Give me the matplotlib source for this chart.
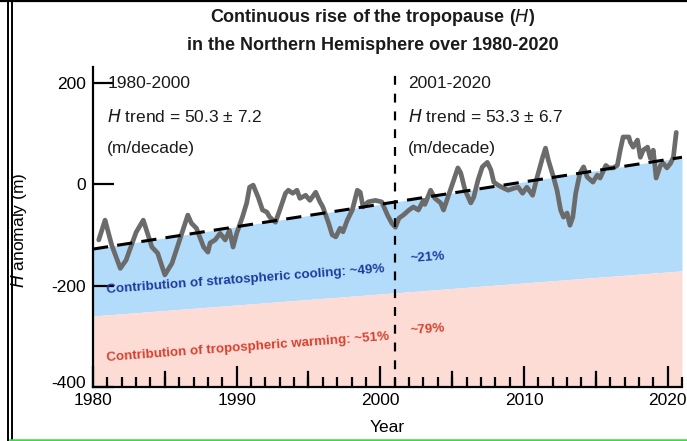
import numpy as np
import matplotlib
matplotlib.use("Agg")
import matplotlib.pyplot as plt
from matplotlib.lines import Line2D
from matplotlib.transforms import ScaledTranslation

plt.rcParams['font.family'] = ['Liberation Sans', 'DejaVu Sans']
plt.rcParams['axes.unicode_minus'] = False

# Smoothed tropopause height anomaly (m), Northern Hemisphere
years = [1980.4, 1980.84, 1981.3, 1981.9, 1982.3, 1983.0, 1983.5, 1984.1, 1984.5,
         1985.0, 1985.5, 1986.1, 1986.6, 1986.85, 1987.2, 1987.7, 1988.0, 1988.15,
         1988.5, 1988.85, 1989.2, 1989.5, 1989.75, 1990.0, 1990.4, 1990.7, 1990.9,
         1991.15, 1991.5, 1991.8, 1992.1, 1992.3, 1992.7, 1993.0, 1993.4, 1993.6,
         1993.9, 1994.2, 1994.4, 1994.8, 1995.1, 1995.5, 1995.8, 1996.0, 1996.4,
         1996.65, 1996.9, 1997.2, 1997.4, 1997.7, 1998.05, 1998.4, 1998.6, 1998.8,
         1999.15, 1999.65, 2000.1, 2000.5, 2000.8, 2001.05, 2001.3, 2001.6, 2002.0,
         2002.3, 2002.65, 2003.0, 2003.1, 2003.5, 2003.8, 2004.2, 2004.4, 2004.7,
         2005.1, 2005.4, 2005.6, 2005.9, 2006.3, 2006.5, 2006.8, 2007.1, 2007.45,
         2007.7, 2007.9, 2008.2, 2008.6, 2008.9, 2009.3, 2009.6, 2009.9, 2010.2,
         2010.6, 2010.9, 2011.3, 2011.5, 2011.7, 2012.05, 2012.3, 2012.55, 2012.75,
         2013.0, 2013.2, 2013.4, 2013.6, 2013.9, 2014.15, 2014.4, 2014.8, 2015.1,
         2015.3, 2015.7, 2015.9, 2016.2, 2016.5, 2016.7, 2016.9, 2017.3, 2017.4,
         2017.6, 2017.9, 2018.1, 2018.3, 2018.6, 2018.8, 2019.0, 2019.2, 2019.5,
         2019.7, 2019.95, 2020.2, 2020.4, 2020.6]
anomaly = [-110, -71, -120, -166, -150, -95, -71, -124, -136,
           -179, -156, -104, -61, -77, -87, -124, -134, -116,
           -110, -97, -110, -91, -124, -97, -65, -37, -6,
           -2, -26, -51, -55, -65, -75, -51, -18, -12,
           -18, -12, -28, -22, -32, -16, -35, -45, -77,
           -100, -104, -87, -94, -71, -51, -12, -16, -45,
           -35, -32, -35, -61, -77, -85, -67, -61, -51,
           -45, -51, -32, -40, -12, -28, -37, -51, -26,
           8, 32, 22, -12, -37, -26, 8, 34, 43,
           28, 4, -2, -8, -12, -8, -6, -18, -6,
           -22, 12, 53, 71, 47, 14, -12, -51, -65,
           -57, -81, -65, -18, 22, 34, 14, 4, 18,
           12, 37, 32, 32, 37, 67, 93, 93, 83,
           73, 87, 53, 67, 73, 51, 67, 12, 37,
           41, 32, 41, 53, 102]

# Linear trend and attribution bands (m)
band_years = [1980, 2021]
trend_line = [-128, 53]
split_line = [-260, -171]
band_floor = [-400, -400]
break_year = 2001

fig = plt.figure(figsize=(6.87, 4.41), dpi=100)
ax = fig.add_axes([93 / 687, 1 - 387 / 441, 589 / 687, (387 - 67) / 441])

ax.fill_between(band_years, split_line, trend_line, color='#b3dcfb', lw=0, zorder=1)
ax.fill_between(band_years, band_floor, split_line, color='#fddcd6', lw=0, zorder=1)
ax.plot(years, anomaly, color='#6b6b6b', lw=3.4, solid_joinstyle='round',
        solid_capstyle='round', zorder=3)
ax.plot(band_years, trend_line, color='black', lw=2.2, dashes=(5, 3), zorder=4)
ax.axvline(break_year, color='black', lw=1.6, dashes=(4, 4), zorder=4)

ax.set_xlim(1980, 2021)
ax.set_ylim(-400, 231)
for s in ('top', 'right'):
    ax.spines[s].set_visible(False)
ax.spines['left'].set_linewidth(1.6)
ax.spines['bottom'].set_linewidth(1.6)
ax.set_xticks([1980, 1990, 2000, 2010, 2020])
ax.set_xticks(np.arange(1980, 2022, 1), minor=True)
ax.set_yticks([-400, -200, 0, 200])
ax.tick_params(axis='x', which='major', direction='in', length=15, width=1.6,
               labelsize=12.5, pad=4)
ax.tick_params(axis='x', which='minor', direction='in', length=7, width=1.6)
ax.tick_params(axis='y', direction='in', length=15, width=1.6, labelsize=12.5, pad=5)
# 5-year ticks drawn at full length
for yr in [1985, 1995, 2005, 2015]:
    ax.plot([yr, yr], [-400, -400 + 15 * 631 / 320], color='black', lw=1.6,
            clip_on=False, zorder=5)

# lift the lowest y label clear of the x labels
lab = ax.get_yticklabels()[0]
lab.set_transform(lab.get_transform() + ScaledTranslation(0, 5 / 100, fig.dpi_scale_trans))

ax.set_xlabel('Year', fontsize=12.5, labelpad=9)
ax.set_ylabel('$\\it{H}$ anomaly (m)', fontsize=12.5)
ax.yaxis.set_label_coords(-0.108, 0.49)

txt = dict(fontsize=12.5, color='#1a1a1a', va='center', ha='left')
ax.text(1981.0, 198, '1980-2000', **txt)
ax.text(1981.0, 134, '$\\it{H}$ trend = 50.3 ± 7.2', **txt)
ax.text(1981.0, 70, '(m/decade)', **txt)
ax.text(2001.95, 198, '2001-2020', **txt)
ax.text(2001.95, 134, '$\\it{H}$ trend = 53.3 ± 6.7', **txt)
ax.text(2001.95, 70, '(m/decade)', **txt)

lbl = dict(fontsize=9.6, fontweight='bold', rotation=4.3, rotation_mode='anchor',
           ha='left', va='center')
ax.text(1980.95, -208, 'Contribution of stratospheric cooling: ~49%', color='#1f3a9e', **lbl)
ax.text(2002.1, -148, '~21%', color='#1f3a9e', **lbl)
ax.text(1980.95, -342, 'Contribution of tropospheric warming: ~51%', color='#d8402f', **lbl)
ax.text(2002.1, -290, '~79%', color='#d8402f', **lbl)

fig.text(373 / 687, 1 - 18 / 441, 'Continuous rise of the tropopause ($\\bf{\\it{H}}$)',
         ha='center', va='center', fontsize=13, fontweight='bold', color='#1a1a1a')
fig.text(373 / 687, 1 - 46 / 441, 'in the Northern Hemisphere over 1980-2020',
         ha='center', va='center', fontsize=13, fontweight='bold', color='#1a1a1a')

# Outer frame lines
W, H = 687, 441
fig.add_artist(Line2D([0, 1], [1 - 1 / H, 1 - 1 / H], transform=fig.transFigure,
                      color='black', lw=1.6))
for x in (8, 12):
    fig.add_artist(Line2D([x / W, x / W], [0, 1], transform=fig.transFigure,
                          color='black', lw=1.4))
fig.add_artist(Line2D([10 / W, 1], [1 / H, 1 / H], transform=fig.transFigure,
                      color='#3ddc3d', lw=1.8))

fig.savefig('out.png', dpi=100)
